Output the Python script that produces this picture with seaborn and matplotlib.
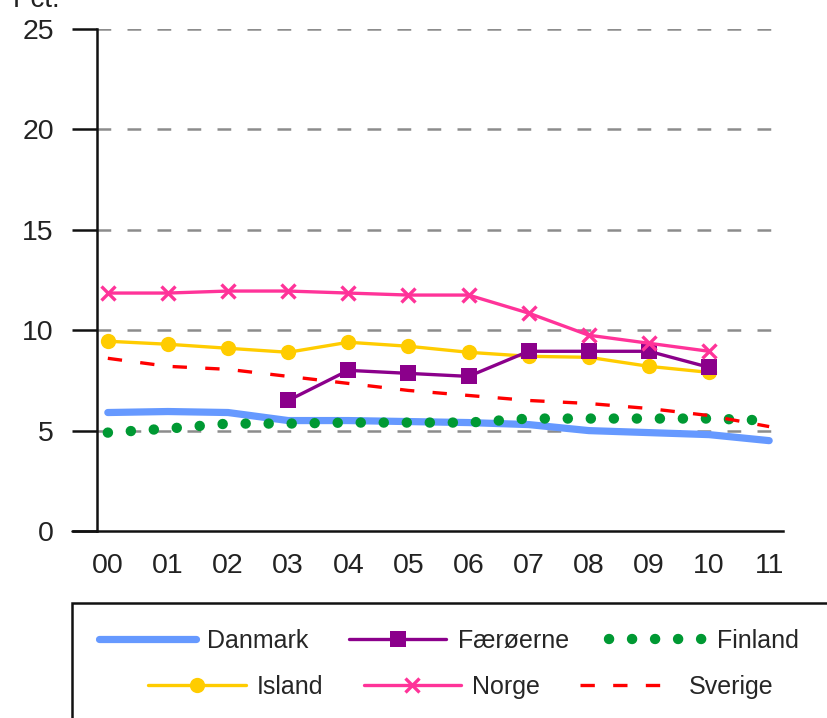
import numpy as np
import pandas as pd
import matplotlib
matplotlib.use("Agg")
import matplotlib.pyplot as plt
from matplotlib.lines import Line2D
from matplotlib.patches import Rectangle
import seaborn as sns

# ---------- data ----------
years = ["00", "01", "02", "03", "04", "05", "06", "07", "08", "09", "10", "11"]

danmark = [5.9, 5.95, 5.9, 5.5, 5.5, 5.45, 5.4, 5.3, 5.0, 4.9, 4.8, 4.5]
faeroerne = [np.nan, np.nan, np.nan, 6.5, 8.0, 7.85, 7.7, 8.95, 8.95, 8.95, 8.15, np.nan]
finland = [4.9, 5.1, 5.35, 5.35, 5.4, 5.4, 5.4, 5.6, 5.6, 5.6, 5.6, 5.5]
island = [9.45, 9.3, 9.1, 8.9, 9.4, 9.2, 8.9, 8.7, 8.65, 8.2, 7.9, np.nan]
norge = [11.85, 11.85, 11.95, 11.95, 11.85, 11.75, 11.75, 10.85, 9.75, 9.35, 8.95, np.nan]
sverige = [8.6, 8.2, 8.05, 7.7, 7.35, 7.0, 6.75, 6.5, 6.35, 6.1, 5.75, 5.2]

df = pd.DataFrame({
    "x": np.arange(len(years)),
    "Danmark": danmark,
    "Færøerne": faeroerne,
    "Finland": finland,
    "Island": island,
    "Norge": norge,
    "Sverige": sverige,
})

sns.set_style("white")
plt.rcParams["font.family"] = ["Liberation Sans", "DejaVu Sans"]

fig = plt.figure(figsize=(8.28, 7.18), dpi=100)
ax = fig.add_axes([97 / 828, 187 / 718, 686 / 828, 502 / 718])

# gridlines
for v in [5, 10, 15, 20, 25]:
    ax.axhline(v, color="#8c8c8c", lw=1.8, linestyle=(0, (5.5, 6.5)), zorder=1)

styles = {
    "Danmark": dict(color="#6699ff", lw=5.2, solid_capstyle="round"),
    "Finland": dict(color="#009933", lw=7.5, linestyle=(0, (0.01, 2.2)),
                    dash_capstyle="round"),
    "Island": dict(color="#ffcc00", lw=2.4, marker="o", markersize=11,
                   markeredgewidth=0, markeredgecolor="#ffcc00"),
    "Færøerne": dict(color="#8b008b", lw=2.4, marker="s", markersize=12,
                     markeredgewidth=0, markeredgecolor="#8b008b"),
    "Norge": dict(color="#ff3399", lw=2.4, marker="x", markersize=10,
                  markeredgewidth=2.4, markeredgecolor="#ff3399"),
    "Sverige": dict(color="#ff0000", lw=2.4, linestyle=(0, (4.3, 5.5))),
}

for i, name in enumerate(styles):
    sub = df[["x", name]].dropna()
    sns.lineplot(x=sub["x"], y=sub[name], ax=ax, legend=False, zorder=3 + i,
                 **styles[name])

ax.set_xlim(-0.18, 11.23)
ax.set_ylim(0, 25)
ax.set_xticks(df["x"])
ax.set_xticklabels(years)
ax.set_yticks([0, 5, 10, 15, 20, 25])
ax.set_xlabel("")
ax.set_ylabel("")
for s in ["top", "right"]:
    ax.spines[s].set_visible(False)
for s in ["left", "bottom"]:
    ax.spines[s].set_color("#111111")
    ax.spines[s].set_linewidth(1.8)
ax.tick_params(axis="y", length=18, width=1.8, color="#111111", pad=13,
               labelsize=20.5, left=True, direction="out")
ax.tick_params(axis="x", length=0, pad=16, labelsize=20.5)
for lab in ax.get_xticklabels() + ax.get_yticklabels():
    lab.set_color("#222222")

# bottom axis line runs left past the y axis
ax.plot([-0.6, -0.18], [0, 0], color="#111111", lw=1.8, clip_on=False,
        zorder=10)

fig.text(13 / 828, (718 - 7) / 718, "Pct.", fontsize=20, va="baseline",
         color="#222222")

# legend box, cut by the figure edge like the original
fig.patches.append(Rectangle((72 / 828, -0.2), 1.0, 0.2 + (718 - 603) / 718,
                             transform=fig.transFigure, fill=False,
                             edgecolor="#111111", lw=1.8))


def handle(name):
    return Line2D([], [], **styles[name])


row1 = ["Danmark", "Færøerne", "Finland"]
row2 = ["Island", "Norge", "Sverige"]
leg_kw = dict(ncol=3, frameon=False, fontsize=18, handlelength=3.9,
              handletextpad=0.45, columnspacing=1.6, loc="center",
              numpoints=1)
fig.legend([handle(n) for n in row1], row1,
           bbox_to_anchor=(449 / 828, (718 - 641) / 718), **leg_kw)
fig.legend([handle(n) for n in row2], row2,
           bbox_to_anchor=(461 / 828, (718 - 687) / 718), **leg_kw)

fig.savefig("out.png", dpi=100)
